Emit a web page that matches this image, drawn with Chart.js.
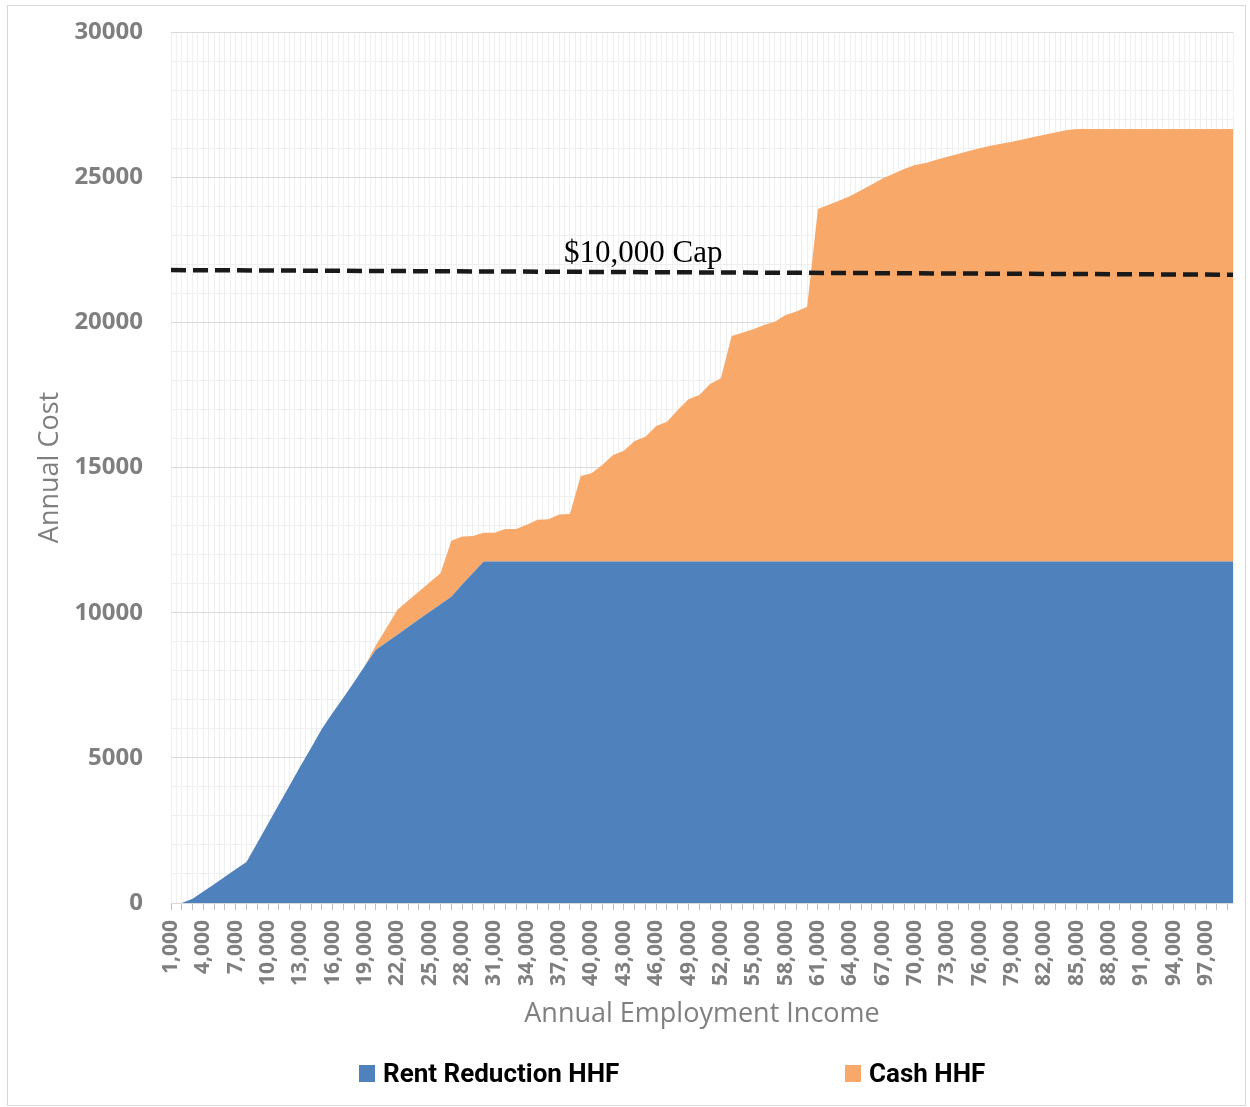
<!DOCTYPE html>
<html>
<head>
<meta charset="utf-8">
<script src="https://cdn.jsdelivr.net/npm/chart.js@4.4.1/dist/chart.umd.min.js"></script>
<style>
  html, body { margin: 0; padding: 0; background: #ffffff; overflow: hidden; }
  #wrap { position: relative; width: 1250px; height: 1107px; }
  #frame { position: absolute; left: 7px; top: 5px; width: 1237px; height: 1099px; border: 1px solid #d9d9d9; pointer-events: none; }
  #c { position: absolute; left: 0; top: 0; }
  .lg { position: absolute; top: 1058px; height: 30px; line-height: 30px; display: flex; align-items: center;
        font-family: Roboto, "Liberation Sans", sans-serif; font-weight: 700; font-size: 26px; color: #000; white-space: nowrap; }
  .lg .sw { display: inline-block; width: 16px; height: 17px; margin-right: 8px; }
</style>
</head>
<body>
<div id="wrap">
  <div id="frame"></div>
  <canvas id="c" width="1250" height="1107"></canvas>
  <div id="legend"></div>
</div>
<script>
// ---- categories: annual employment income ----
const incomes = [
  1000, 2000, 3000, 4000, 5000, 6000, 7000, 8000, 9000, 10000,
  11000, 12000, 13000, 14000, 15000, 16000, 17000, 18000, 19000, 20000,
  21000, 22000, 23000, 24000, 25000, 26000, 27000, 28000, 29000, 30000,
  31000, 32000, 33000, 34000, 35000, 36000, 37000, 38000, 39000, 40000,
  41000, 42000, 43000, 44000, 45000, 46000, 47000, 48000, 49000, 50000,
  51000, 52000, 53000, 54000, 55000, 56000, 57000, 58000, 59000, 60000,
  61000, 62000, 63000, 64000, 65000, 66000, 67000, 68000, 69000, 70000,
  71000, 72000, 73000, 74000, 75000, 76000, 77000, 78000, 79000, 80000,
  81000, 82000, 83000, 84000, 85000, 86000, 87000, 88000, 89000, 90000,
  91000, 92000, 93000, 94000, 95000, 96000, 97000, 98000, 99000, 99500
];

// ---- series: annual cost ----
const rentReductionHHF = [
  0, 0, 150, 400, 650, 900, 1160, 1410, 2070, 2730,
  3390, 4050, 4710, 5350, 6000, 6550, 7080, 7620, 8180, 8720,
  8980, 9240, 9510, 9770, 10030, 10290, 10550, 10970, 11370, 11760,
  11760, 11760, 11760, 11760, 11760, 11760, 11760, 11760, 11760, 11760,
  11760, 11760, 11760, 11760, 11760, 11760, 11760, 11760, 11760, 11760,
  11760, 11760, 11760, 11760, 11760, 11760, 11760, 11760, 11760, 11760,
  11760, 11760, 11760, 11760, 11760, 11760, 11760, 11760, 11760, 11760,
  11760, 11760, 11760, 11760, 11760, 11760, 11760, 11760, 11760, 11760,
  11760, 11760, 11760, 11760, 11760, 11760, 11760, 11760, 11760, 11760,
  11760, 11760, 11760, 11760, 11760, 11760, 11760, 11760, 11760, 11760
];

const cashHHF = [
  0, 0, 0, 0, 0, 0, 0, 0, 0, 0,
  0, 0, 0, 0, 0, 0, 0, 0, 0, 160,
  500, 860, 910, 960, 1020, 1070, 1930, 1650, 1270, 990,
  990, 1120, 1120, 1270, 1440, 1460, 1620, 1640, 2950, 3040,
  3330, 3670, 3820, 4150, 4300, 4670, 4820, 5220, 5590, 5740,
  6120, 6310, 7770, 7880, 8000, 8150, 8260, 8490, 8610, 8780,
  12140, 12290, 12440, 12590, 12790, 12990, 13190, 13360, 13520, 13660,
  13730, 13840, 13940, 14040, 14140, 14240, 14320, 14390, 14460, 14540,
  14620, 14700, 14780, 14860, 14900, 14900, 14900, 14900, 14900, 14900,
  14900, 14900, 14900, 14900, 14900, 14900, 14900, 14900, 14900, 14900
];

// ---- $10,000 cap reference line (two end points) ----
const capIncomes = [1000, 99500];
const capValues = [21800, 21640];
const capLabel = '$10,000 Cap';
const capLabelAt = [44800, 22080];

// ---- text ----
const seriesNames = ['Rent Reduction HHF', 'Cash HHF'];
const xTitle = 'Annual Employment Income';
const yTitle = 'Annual Cost';
const yMajorStep = 5000;
const xLabelStep = 3000;

const BLUE = '#4F81BD';
const ORANGE = '#F8A96A';
const GRAY_TEXT = '#7f7f7f';

Chart.defaults.font.family = '"Open Sans", sans-serif';

const capLabelPlugin = {
  id: 'capLabelPlugin',
  afterDatasetsDraw(chart) {
    const { ctx, scales } = chart;
    ctx.save();
    ctx.font = '31px "Liberation Serif", "Times New Roman", serif';
    ctx.fillStyle = '#000000';
    ctx.textAlign = 'center';
    ctx.textBaseline = 'alphabetic';
    ctx.fillText(capLabel, scales.x.getPixelForValue(capLabelAt[0]), scales.y.getPixelForValue(capLabelAt[1]));
    ctx.restore();
  }
};

const chart = new Chart(document.getElementById('c'), {
  type: 'line',
  data: {
    labels: incomes,
    datasets: [
      {
        label: seriesNames[0],
        data: rentReductionHHF,
        stack: 'hhf',
        fill: 'origin',
        backgroundColor: BLUE,
        borderColor: BLUE,
        borderWidth: 0,
        pointRadius: 0,
        tension: 0
      },
      {
        label: seriesNames[1],
        data: cashHHF,
        stack: 'hhf',
        fill: '-1',
        backgroundColor: ORANGE,
        borderColor: ORANGE,
        borderWidth: 0,
        pointRadius: 0,
        tension: 0
      },
      {
        label: capLabel,
        data: capIncomes.map((v, i) => ({ x: v, y: capValues[i] })),
        stack: 'cap',
        order: -1,
        fill: false,
        borderColor: '#1a1a1a',
        borderWidth: 4.5,
        borderDash: [15, 7],
        pointRadius: 0,
        tension: 0
      }
    ]
  },
  options: {
    responsive: false,
    animation: false,
    devicePixelRatio: 1,
    events: [],
    layout: { padding: { left: 30, right: 17, top: 32, bottom: 72 } },
    plugins: {
      legend: { display: false },
      tooltip: { enabled: false }
    },
    scales: {
      x: {
        type: 'linear',
        min: 1000,
        max: 99500,
        afterFit: (s) => { s.height = 132; },
        border: { display: true, color: '#d9d9d9', width: 1 },
        grid: {
          color: '#efefef',
          lineWidth: 1,
          drawTicks: true,
          tickLength: 7,
          tickColor: (ctx) => (ctx.tick && ctx.tick.value % 1000 === 0) ? '#bfbfbf' : 'rgba(0,0,0,0)'
        },
        ticks: {
          stepSize: 500,
          autoSkip: false,
          minRotation: 90,
          maxRotation: 90,
          padding: 10,
          color: GRAY_TEXT,
          font: { size: 21, weight: 'bold' },
          callback: (v) => ((v - incomes[0]) % xLabelStep === 0) ? v.toLocaleString('en-US') : []
        },
        title: {
          display: true,
          text: xTitle,
          color: GRAY_TEXT,
          font: { size: 27, weight: 'normal' },
          padding: { top: 4, bottom: 4 }
        }
      },
      y: {
        stacked: true,
        min: 0,
        max: 30000,
        afterFit: (s) => { s.width = 141; },
        border: { display: false },
        grid: {
          drawTicks: true,
          tickLength: 28,
          tickColor: 'rgba(0,0,0,0)',
          lineWidth: 1,
          color: (ctx) => (ctx.tick && ctx.tick.value % yMajorStep === 0) ? '#d9d9d9' : '#efefef'
        },
        ticks: {
          stepSize: 1000,
          autoSkip: false,
          padding: 0,
          color: GRAY_TEXT,
          font: { size: 24, weight: 'bold' },
          callback: (v) => (v % yMajorStep === 0) ? String(v) : []
        },
        title: {
          display: true,
          text: yTitle,
          color: GRAY_TEXT,
          font: { size: 27, weight: 'normal' },
          padding: { top: 4, bottom: 4 }
        }
      }
    }
  },
  plugins: [capLabelPlugin]
});

// ---- legend (HTML, built from the chart's datasets) ----
const legendLefts = [359, 845];
const legendEl = document.getElementById('legend');
chart.data.datasets.slice(0, 2).forEach((ds, i) => {
  const item = document.createElement('div');
  item.className = 'lg';
  item.style.left = legendLefts[i] + 'px';
  const sw = document.createElement('span');
  sw.className = 'sw';
  sw.style.background = ds.backgroundColor;
  const tx = document.createElement('span');
  tx.textContent = ds.label;
  item.appendChild(sw);
  item.appendChild(tx);
  legendEl.appendChild(item);
});
</script>
</body>
</html>
